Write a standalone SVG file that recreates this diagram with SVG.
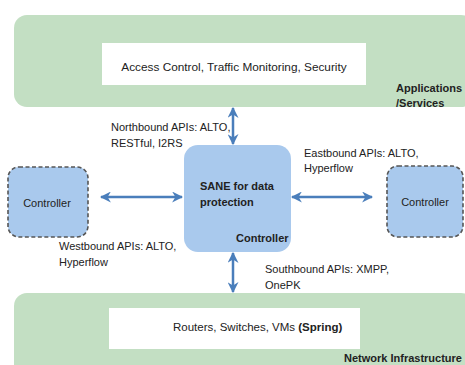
<svg xmlns="http://www.w3.org/2000/svg" width="465" height="365" viewBox="0 0 465 365">
<defs>
<marker id="ah" viewBox="0 0 10 10" refX="9" refY="5" markerWidth="4.4" markerHeight="4.4" orient="auto-start-reverse" markerUnits="strokeWidth">
<path d="M0,0 L10,5 L0,10 L3,5 Z" fill="#4a7ebb"/>
</marker>
</defs>
<style>
.layer{fill:#c3dfc3;}
.white{fill:#ffffff;}
.ctrl{fill:#a9c9ed;}
.dash{fill:#a9c9ed;stroke:#555555;stroke-width:1.6;stroke-dasharray:4,2.5;}
text{font-family:"Liberation Sans",Arial,sans-serif;font-size:11px;fill:#222222;}
.b{font-weight:bold;}
.conn{stroke:#4a7ebb;stroke-width:2.5;fill:none;marker-start:url(#ah);marker-end:url(#ah);}
</style>
<rect width="465" height="365" fill="#ffffff"/>
<g id="apps">
<rect class="layer" x="14" y="15" width="460" height="92" rx="13"/>
<rect class="white" x="102" y="43" width="264" height="42"/>
<text x="234" y="71" text-anchor="middle" style="font-size:11.8px">Access Control, Traffic Monitoring, Security</text>
<text class="b" x="396" y="92">Applications</text>
<text class="b" x="396" y="107">/Services</text>
</g>
<g id="infra">
<rect class="layer" x="14" y="293" width="460" height="90" rx="13"/>
<rect class="white" x="109" y="308" width="251" height="41"/>
<text x="173" y="331" style="font-size:11.5px">Routers, Switches, VMs  <tspan class="b">(Spring)</tspan></text>
<text class="b" x="344" y="362">Network Infrastructure</text>
</g>
<g id="sane">
<rect class="ctrl" x="184" y="145" width="107" height="107" rx="14"/>
<text class="b" x="200" y="190">SANE for data</text>
<text class="b" x="200" y="206">protection</text>
<text class="b" x="236" y="242">Controller</text>
</g>
<g id="west">
<rect class="dash" x="8" y="167" width="80" height="70" rx="11"/>
<text x="47" y="207" text-anchor="middle">Controller</text>
</g>
<g id="east">
<rect class="dash" x="387" y="166" width="76" height="71" rx="11"/>
<text x="425" y="206" text-anchor="middle">Controller</text>
</g>
<g id="connectors">
<line class="conn" x1="233" y1="108" x2="233" y2="144"/>
<line class="conn" x1="233" y1="253" x2="233" y2="292"/>
<line class="conn" x1="101" y1="197" x2="182" y2="197"/>
<line class="conn" x1="292" y1="197" x2="372" y2="197"/>
</g>
<g id="labels">
<text x="111" y="131">Northbound APIs: ALTO,</text>
<text x="111" y="147">RESTful, I2RS</text>
<text x="304" y="157">Eastbound APIs: ALTO,</text>
<text x="304" y="172">Hyperflow</text>
<text x="59" y="250">Westbound APIs: ALTO,</text>
<text x="59" y="266">Hyperflow</text>
<text x="265" y="273">Southbound APIs: XMPP,</text>
<text x="265" y="289">OnePK</text>
</g>
</svg>
